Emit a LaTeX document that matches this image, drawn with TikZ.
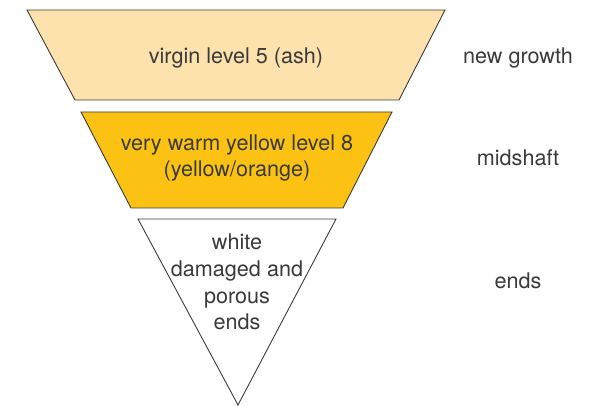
\documentclass[tikz,border=0pt]{standalone}
\usepackage{fontspec}
\setmainfont{TeX Gyre Heros}
\definecolor{peach}{HTML}{FDE2AD}
\definecolor{gold}{HTML}{FCC213}
\definecolor{outline}{HTML}{3C3C3C}
\definecolor{txt}{HTML}{3A3A3A}
\begin{document}
\begin{tikzpicture}[x=1pt,y=-1pt,
  layer/.style={draw=outline,line width=0.9pt,line join=miter},
  lbl/.style={text=txt,align=center,font=\fontsize{21.6}{26.8}\selectfont,inner sep=0pt},
  side/.style={lbl}]
\useasboundingbox (0,0) rectangle (590,406);
\draw[layer,fill=peach] (27,10) -- (445,10) -- (399,100) -- (75,100) -- cycle;
\draw[layer,fill=gold] (81,112) -- (392,112) -- (343,208) -- (131,208) -- cycle;
\draw[layer,fill=white] (138,219) -- (336,219) -- (238,405) -- cycle;
\node[lbl] (t1) at (236,58) {virgin level 5 (ash)};
\node[lbl] (t2) at (237,158) {very warm yellow level 8\\(yellow/orange)};
\node[lbl] (t3) at (237,282) {white\\damaged and\\porous\\ends};
\node[side] (s1) at (518,58) {new growth};
\node[side] (s2) at (518,158) {midshaft};
\node[side] (s3) at (518,281) {ends};
\end{tikzpicture}
\end{document}
